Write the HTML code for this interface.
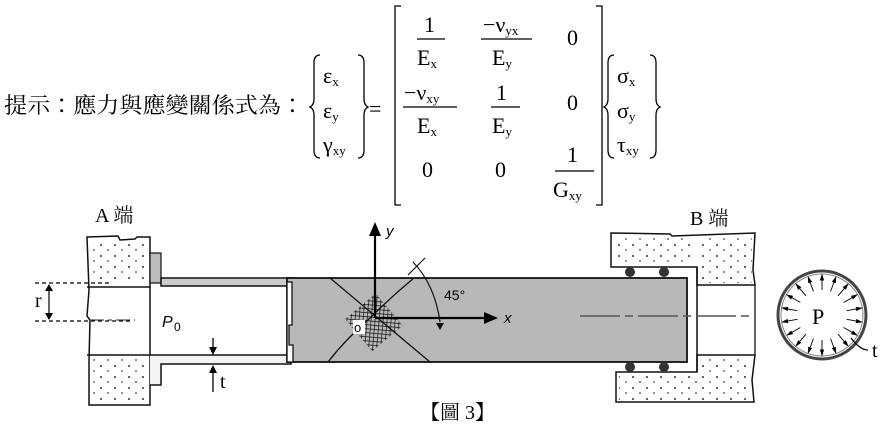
<!DOCTYPE html>
<html><head><meta charset="utf-8"><style>
html,body{margin:0;padding:0;background:#fff;width:887px;height:428px;overflow:hidden}
svg{display:block}
.s{font-family:"Liberation Serif","Noto Serif CJK TC",serif;fill:#000}
.a{font-family:"Liberation Sans",sans-serif;fill:#000}
</style></head><body>
<svg width="887" height="428" viewBox="0 0 887 428" xmlns="http://www.w3.org/2000/svg">
<defs>
<pattern id="dots" width="14" height="11" patternUnits="userSpaceOnUse">
<circle cx="3" cy="3" r="1" fill="#333"/><circle cx="10" cy="8" r="0.9" fill="#444"/>
</pattern>
<pattern id="grid" width="4" height="4" patternUnits="userSpaceOnUse" patternTransform="rotate(45)">
<path d="M0 0H4M0 0V4" stroke="#111" stroke-width="1.4"/>
</pattern>
<clipPath id="gc"><rect x="287" y="278" width="400" height="84"/></clipPath>
</defs>

<!-- Formula -->
<text class="s" x="4" y="113" font-size="22" textLength="300" lengthAdjust="spacingAndGlyphs">提示：應力與應變關係式為：</text>
<g class="s" font-size="22">
<text x="323" y="83">ε<tspan font-size="13" dy="3">x</tspan></text>
<text x="323" y="118">ε<tspan font-size="13" dy="3">y</tspan></text>
<text x="323" y="152">γ<tspan font-size="13" dy="3">xy</tspan></text>
<text x="369" y="116">=</text>
<text x="424" y="32">1</text><text x="417" y="65">E<tspan font-size="13" dy="3">x</tspan></text>
<text x="483" y="32">−ν<tspan font-size="13" dy="3">yx</tspan></text><text x="492" y="65">E<tspan font-size="13" dy="3">y</tspan></text>
<text x="567" y="45">0</text>
<text x="404" y="100">−ν<tspan font-size="13" dy="3">xy</tspan></text><text x="417" y="133">E<tspan font-size="13" dy="3">x</tspan></text>
<text x="496" y="100">1</text><text x="492" y="133">E<tspan font-size="13" dy="3">y</tspan></text>
<text x="567" y="110">0</text>
<text x="422" y="177">0</text><text x="495" y="177">0</text>
<text x="567" y="162">1</text><text x="553" y="197">G<tspan font-size="13" dy="3">xy</tspan></text>
<text x="617" y="83">σ<tspan font-size="13" dy="3">x</tspan></text>
<text x="617" y="118">σ<tspan font-size="13" dy="3">y</tspan></text>
<text x="617" y="152">τ<tspan font-size="13" dy="3">xy</tspan></text>
</g>
<g stroke="#000" stroke-width="1.3" fill="none">
<line x1="417" y1="39" x2="445" y2="39"/><line x1="481" y1="39" x2="532" y2="39"/>
<line x1="403" y1="107" x2="457" y2="107"/><line x1="491" y1="107" x2="520" y2="107"/>
<line x1="555" y1="171" x2="594" y2="171"/>
<path d="M401 6H395V205H401"/><path d="M596 6H602V205H596"/>
<path d="M320 55Q314 55 314 63V99Q314 105 310 107Q314 109 314 115V150Q314 158 320 158"/>
<path d="M358 55Q364 55 364 63V99Q364 105 368 107Q364 109 364 115V150Q364 158 358 158"/>
<path d="M614 55Q608 55 608 63V99Q608 105 604 107Q608 109 608 115V150Q608 158 614 158"/>
<path d="M650 55Q656 55 656 63V99Q656 105 660 107Q656 109 656 115V150Q656 158 650 158"/>
</g>

<!-- Labels -->
<text class="s" x="95" y="222" font-size="20">A 端</text>
<text class="s" x="690" y="225" font-size="20">B 端</text>
<text class="s" x="420" y="419" font-size="20">【圖 3】</text>

<!-- A block -->
<path d="M87 237L118 236L120 240L135 239L137 237L150 237V405H89V360L90 320L87 316L89 290Z" fill="#fff" stroke="#111" stroke-width="1.5"/>
<rect x="90" y="240" width="58" height="42" fill="url(#dots)"/>
<rect x="90" y="357" width="58" height="46" fill="url(#dots)"/>
<line x1="87" y1="287" x2="150" y2="287" stroke="#111" stroke-width="1.5"/>
<line x1="87" y1="355" x2="150" y2="355" stroke="#111" stroke-width="1.5"/>
<rect x="150" y="253" width="11" height="30" fill="#bbb" stroke="#111" stroke-width="1.2"/>

<!-- tube -->
<rect x="161" y="278" width="130" height="8" fill="#ccc" stroke="#111" stroke-width="1.5"/>
<path d="M150 355H291V364H161V385H150" fill="#f3f3f3" stroke="#111" stroke-width="1.5"/>
<rect x="287" y="278" width="400" height="84" fill="#b8b8b8" stroke="#111" stroke-width="1.8"/>
<path d="M287 282H292V325H289V345H293V362H287Z" fill="#fff" stroke="#111" stroke-width="1.3"/>
<g clip-path="url(#gc)" stroke="#111" stroke-width="1.3" fill="none">
<line x1="330" y1="278" x2="430" y2="362"/>
<path d="M328 362Q345 340 370 318Q398 290 430 265"/>
</g>
<rect x="352" y="302" width="40" height="42" fill="url(#grid)" transform="rotate(-40 372 320)"/>
<rect x="353" y="320" width="12" height="14" fill="#fff"/>
<text class="a" x="354" y="332" font-size="13">o</text>

<!-- axes -->
<g stroke="#000" stroke-width="2.2" fill="#000">
<line x1="375" y1="318" x2="375" y2="235"/>
<path d="M369 236L375 222L381 236Z" stroke="none"/>
<line x1="375" y1="318" x2="486" y2="318"/>
<path d="M484 312L498 318L484 324Z" stroke="none"/>
</g>
<text class="a" x="386" y="236" font-size="15" font-style="italic">y</text>
<text class="a" x="504" y="323" font-size="15" font-style="italic">x</text>
<path d="M413 262Q435 285 440 322" fill="none" stroke="#111" stroke-width="1.2"/>
<path d="M436 323L440 330L444 323Z" fill="#111"/>
<line x1="408" y1="275" x2="425" y2="258" stroke="#111" stroke-width="1.2"/>
<text class="a" x="444" y="300" font-size="14">45°</text>

<!-- B block -->
<path d="M611 233L670 234L672 236L755 233L753 270L755 285H697V267H611Z" fill="#fff" stroke="#111" stroke-width="1.5"/>
<path d="M616 372H697V355H755L752 380L754 402H616Z" fill="#fff" stroke="#111" stroke-width="1.5"/>
<rect x="614" y="236" width="80" height="29" fill="url(#dots)"/>
<rect x="700" y="236" width="52" height="47" fill="url(#dots)"/>
<rect x="619" y="374" width="130" height="26" fill="url(#dots)"/>
<rect x="700" y="357" width="50" height="15" fill="url(#dots)"/>
<line x1="697" y1="267" x2="697" y2="372" stroke="#111" stroke-width="1.5"/>
<line x1="755" y1="285" x2="755" y2="355" stroke="#111" stroke-width="1.3"/>
<g fill="#333"><circle cx="630" cy="272" r="5"/><circle cx="664" cy="272" r="5"/><circle cx="630" cy="367" r="5"/><circle cx="664" cy="367" r="5"/></g>
<line x1="580" y1="316" x2="755" y2="316" stroke="#555" stroke-width="1.5" stroke-dasharray="40 5 8 5"/>
<line x1="90" y1="320" x2="135" y2="320" stroke="#555" stroke-width="1.2" stroke-dasharray="14 4 4 4"/>

<!-- r dim -->
<g stroke="#000" stroke-width="1.2">
<line x1="35" y1="283" x2="110" y2="283" stroke-dasharray="4 3"/>
<line x1="35" y1="321" x2="130" y2="321" stroke-dasharray="4 3"/>
<line x1="49" y1="288" x2="49" y2="316"/>
</g>
<path d="M45 291L49 284L53 291Z M45 313L49 320L53 313Z" fill="#000"/>
<text class="s" x="35" y="307" font-size="20">r</text>

<!-- t dim -->
<line x1="213" y1="338" x2="213" y2="350" stroke="#000" stroke-width="1.3"/>
<path d="M209 347L213 355L217 347Z" fill="#000"/>
<line x1="213" y1="372" x2="213" y2="392" stroke="#000" stroke-width="1.3"/>
<path d="M209 373L213 365L217 373Z" fill="#000"/>
<text class="s" x="220" y="388" font-size="20">t</text>
<text class="a" x="162" y="327" font-size="16" font-style="italic">P</text><text class="a" x="174" y="331" font-size="12">0</text>

<!-- circle P -->
<circle cx="822" cy="315" r="44" fill="#fff" stroke="#444" stroke-width="3"/>
<circle cx="822" cy="315" r="41" fill="none" stroke="#888" stroke-width="1"/>
<g stroke="#000" stroke-width="0.9" fill="#000">
<g id="ar"><line x1="822" y1="290" x2="822" y2="278"/><path d="M820.5 280L822 275L823.5 280Z"/></g>
<use href="#ar" transform="rotate(20 822 315)"/>
<use href="#ar" transform="rotate(40 822 315)"/>
<use href="#ar" transform="rotate(60 822 315)"/>
<use href="#ar" transform="rotate(80 822 315)"/>
<use href="#ar" transform="rotate(100 822 315)"/>
<use href="#ar" transform="rotate(120 822 315)"/>
<use href="#ar" transform="rotate(140 822 315)"/>
<use href="#ar" transform="rotate(160 822 315)"/>
<use href="#ar" transform="rotate(180 822 315)"/>
<use href="#ar" transform="rotate(200 822 315)"/>
<use href="#ar" transform="rotate(220 822 315)"/>
<use href="#ar" transform="rotate(240 822 315)"/>
<use href="#ar" transform="rotate(260 822 315)"/>
<use href="#ar" transform="rotate(280 822 315)"/>
<use href="#ar" transform="rotate(300 822 315)"/>
<use href="#ar" transform="rotate(320 822 315)"/>
<use href="#ar" transform="rotate(340 822 315)"/>
</g>
<text class="s" x="812" y="324" font-size="22">P</text>
<path d="M851 338Q860 350 868 350" fill="none" stroke="#000" stroke-width="1.2"/>
<text class="s" x="872" y="357" font-size="20">t</text>
</svg>
</body></html>
